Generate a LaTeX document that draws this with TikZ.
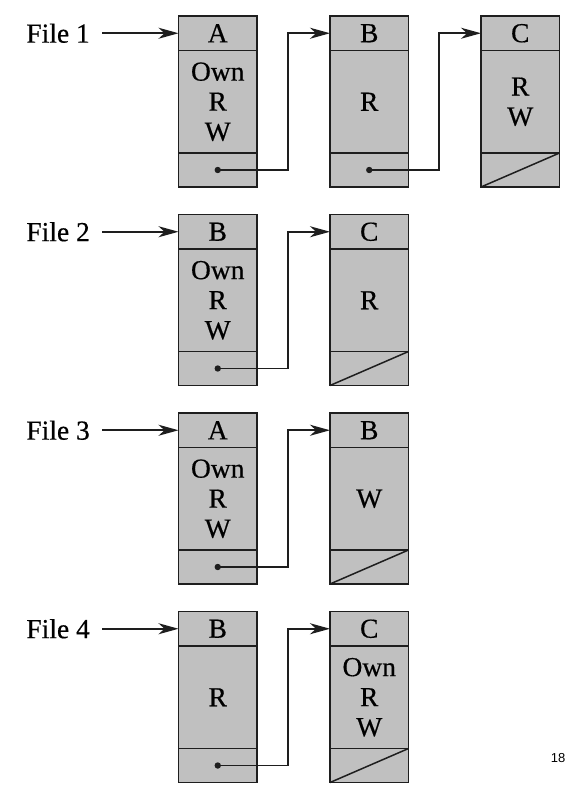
\documentclass[tikz,border=0pt]{standalone}
\usepackage{fontspec}
\setmainfont{Liberation Serif}[FakeBold=0.4]
\newfontfamily\labelsans{Liberation Sans}
\newfontfamily\heavyserif{Liberation Serif}[FakeBold=0.5]
\usetikzlibrary{arrows.meta}
\definecolor{boxgray}{RGB}{192,192,192}
\definecolor{inkline}{RGB}{30,30,30}
\tikzset{
  cell/.style={fill=boxgray, minimum width=78.5pt,
    inner sep=0pt, outer sep=0pt, anchor=north, font=\heavyserif\fontsize{27.5}{30}\selectfont, align=center},
  hcell/.style={cell, minimum height=34.5pt},
  bcell/.style={cell, minimum height=102.5pt},
  fcell/.style={cell, minimum height=34pt},
  frame/.style={draw=inkline, line width=1.8pt, line join=miter},
  link/.style={draw=inkline, line width=1.6pt, -{Stealth[length=20pt,width=11pt,inset=6pt]}},
  filelabel/.style={anchor=east, inner sep=0pt, font=\heavyserif\fontsize{27.5}{30}\selectfont},
  dotmark/.style={fill=inkline},
  slash/.style={draw=inkline, line width=1.5pt},
}
\newcommand\listbox[5]{%
  \node[hcell] (#1h) at (#2+39.25,#3) {#4};
  \node[bcell] (#1b) at (#1h.south) {#5};
  \node[fcell] (#1f) at (#1b.south) {};
  \draw[frame] (#1h.north west) rectangle (#1f.south east)
    (#1b.north west) -- (#1b.north east)
    (#1b.south west) -- (#1b.south east);
}
\begin{document}
\begin{tikzpicture}[x=1pt,y=-1pt]
\useasboundingbox (0,0) rectangle (578,791);
% Row 1
\listbox{A1}{178.5}{16}{A}{Own\\R\\W}
\listbox{B1}{330}{16}{B}{R}
\listbox{C1}{481}{16}{C}{R\\W}
\node[filelabel] (L1) at (90,33.25) {File 1};
\draw[link, shorten <=12pt] (L1.east) -- (A1h.west);
\fill[dotmark] (A1f.center) circle (3.2pt);
\draw[link] (A1f.center) -- ++(70,0) |- (B1h.west);
\fill[dotmark] (B1f.center) circle (3.2pt);
\draw[link] (B1f.center) -- ++(70,0) |- (C1h.west);
\draw[slash] (C1f.south west) -- (C1f.north east);
% Row 2
\listbox{A2}{178.5}{214.5}{B}{Own\\R\\W}
\listbox{B2}{330}{214.5}{C}{R}
\node[filelabel] (L2) at (90,231.75) {File 2};
\draw[link, shorten <=12pt] (L2.east) -- (A2h.west);
\fill[dotmark] (A2f.center) circle (3.2pt);
\draw[link] (A2f.center) -- ++(70,0) |- (B2h.west);
\draw[slash] (B2f.south west) -- (B2f.north east);
% Row 3
\listbox{A3}{178.5}{413}{A}{Own\\R\\W}
\listbox{B3}{330}{413}{B}{W}
\node[filelabel] (L3) at (90,430.25) {File 3};
\draw[link, shorten <=12pt] (L3.east) -- (A3h.west);
\fill[dotmark] (A3f.center) circle (3.2pt);
\draw[link] (A3f.center) -- ++(70,0) |- (B3h.west);
\draw[slash] (B3f.south west) -- (B3f.north east);
% Row 4
\listbox{A4}{178.5}{611.5}{B}{R}
\listbox{B4}{330}{611.5}{C}{Own\\R\\W}
\node[filelabel] (L4) at (90,628.75) {File 4};
\draw[link, shorten <=12pt] (L4.east) -- (A4h.west);
\fill[dotmark] (A4f.center) circle (3.2pt);
\draw[link] (A4f.center) -- ++(70,0) |- (B4h.west);
\draw[slash] (B4f.south west) -- (B4f.north east);
% page number
\node[font=\labelsans\fontsize{13}{15}\selectfont, inner sep=0pt] (pg) at (558,758) {18};
\end{tikzpicture}
\end{document}
